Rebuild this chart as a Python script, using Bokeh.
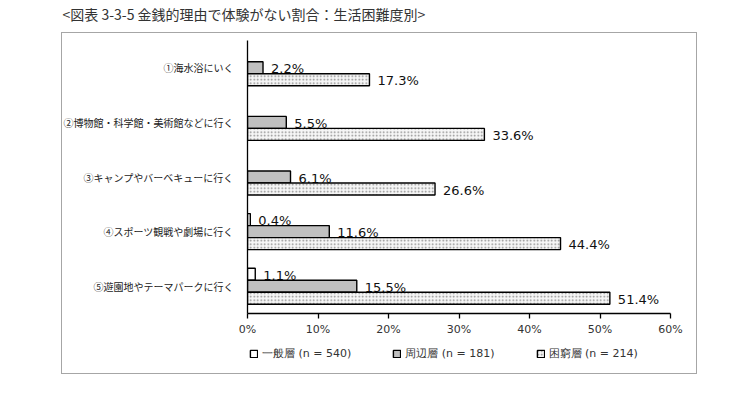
from bokeh.plotting import figure
from bokeh.layouts import column
from bokeh.models import (ColumnDataSource, FactorRange, Range1d, Legend, LegendItem,
                          FixedTicker, PrintfTickFormatter, InlineStyleSheet)
from bokeh.transform import dodge
from bokeh.core.properties import value
from bokeh.embed import file_html
from bokeh.resources import INLINE

# ---------------- data ----------------
title_text = "<図表 3-3-5  金銭的理由で体験がない割合：生活困難度別>"
categories = ["①海水浴にいく", "②博物館・科学館・美術館などに行く", "③キャンプやバーベキューに行く",
              "④スポーツ観戦や劇場に行く", "⑤遊園地やテーマパークに行く"]
series_names = ["一般層 (n = 540)", "周辺層 (n = 181)", "困窮層 (n = 214)"]
ippan = [None, None, None, 0.4, 1.1]
shuhen = [2.2, 5.5, 6.1, 11.6, 15.5]
konkyu = [17.3, 33.6, 26.6, 44.4, 51.4]
x_ticks = [0, 10, 20, 30, 40, 50, 60]
x_max = 60

SHIFT = 17  # the whole layout is moved up by this many px with CSS

# ---------------- main figure ----------------
p = figure(frame_width=423, frame_height=273, output_backend="svg", toolbar_location=None,
           y_range=FactorRange(*categories[::-1]), x_range=Range1d(0, x_max),
           min_border_left=247, min_border_right=50, min_border_top=40 + SHIFT, min_border_bottom=30)
p.outline_line_color = None
p.grid.grid_line_color = None
p.background_fill_color = "white"
p.border_fill_color = "white"

# title
p.title.text = title_text
p.title.align = "left"
p.title.offset = -185
p.title.text_font = "Noto Sans CJK JP"
p.title.text_font_size = "14px"
p.title.text_font_style = "normal"
p.title.text_color = "#333333"
p.title.standoff = 33

BAR_H = 0.22
styles = [
    dict(fill_color="white"),
    dict(fill_color="#c0c0c0"),
    dict(fill_color="#f6f6f6", hatch_pattern="dot", hatch_color="#8a8a8a", hatch_scale=3.5, hatch_weight=1),
]
offsets = [BAR_H, 0.0, -BAR_H]
series = [ippan, shuhen, konkyu]

for vals, off, st in zip(series, offsets, styles):
    cats = [c for c, v in zip(categories, vals) if v is not None]
    vs = [v for v in vals if v is not None]
    src = ColumnDataSource(dict(cat=cats, val=vs, label=[f"{v:.1f}%" for v in vs]))
    p.hbar(y=dodge("cat", off, range=p.y_range), left=0, right="val", height=BAR_H,
           source=src, line_color="black", line_width=1.4, **st)
    p.text(x="val", y=dodge("cat", off, range=p.y_range), text="label", source=src,
           x_offset=8, y_offset=1, text_baseline="middle", text_align="left",
           text_font=value("DejaVu Sans"), text_font_size="13px", text_color="#111111")

# axes
p.xaxis.ticker = FixedTicker(ticks=x_ticks)
p.xaxis.formatter = PrintfTickFormatter(format="%d%%")
p.xaxis.axis_line_color = "black"
p.xaxis.axis_line_width = 1.3
p.xaxis.major_tick_line_color = "black"
p.xaxis.major_tick_line_width = 1.3
p.xaxis.major_tick_in = 0
p.xaxis.major_tick_out = 5
p.xaxis.minor_tick_line_color = None
p.xaxis.major_label_standoff = 4
p.xaxis.major_label_text_font = "DejaVu Sans"
p.xaxis.major_label_text_font_size = "11px"
p.xaxis.major_label_text_color = "#333333"

p.yaxis.axis_line_color = "black"
p.yaxis.axis_line_width = 1.3
p.yaxis.major_tick_line_color = None
p.yaxis.minor_tick_line_color = None
p.yaxis.major_label_standoff = 8
p.yaxis.major_label_text_font = "Noto Sans CJK JP"
p.yaxis.major_label_text_font_size = "10px"
p.yaxis.major_label_text_color = "#222222"

# ---------------- legend strip ----------------
q = figure(frame_width=423, frame_height=31, output_backend="svg", toolbar_location=None,
           x_range=Range1d(0, 1), y_range=Range1d(0, 1), x_axis_type=None, y_axis_type=None,
           min_border_left=247, min_border_right=50, min_border_top=0, min_border_bottom=0)
q.outline_line_color = None
q.background_fill_color = "white"
q.border_fill_color = "white"
# legend-only renderers: one swatch row each with a NaN position, so nothing is drawn in the frame
nan = float("nan")
legend_renderers = [q.hbar(y=[nan], left=[nan], right=[nan], height=0.1, line_color="black",
                           line_width=1.4, **st) for st in styles]
legend = Legend(items=[LegendItem(label=n, renderers=[r]) for n, r in zip(series_names, legend_renderers)],
                orientation="horizontal", location=(2, 13), border_line_color=None,
                background_fill_alpha=0, padding=0, margin=0, spacing=41,
                glyph_width=9, glyph_height=9, label_standoff=4, label_height=12,
                label_text_font="DejaVu Sans", label_text_font_size="11px",
                label_text_color="#333333")
q.add_layout(legend)

layout = column(p, q, spacing=0)
# outer grey frame around the whole chart (drawn with CSS on the layout host)
layout.stylesheets = [InlineStyleSheet(css=(
    f":host {{ position: relative; transform: translateY(-{SHIFT}px); }}"
    f":host::after {{ content: ''; position: absolute; left: 61px; top: {32 + SHIFT}px; width: 636px; height: 342px;"
    " box-sizing: border-box; border: 1.5px solid #a6a6a6; pointer-events: none; }"))]

open("out.html", "w").write(file_html(layout, INLINE))
